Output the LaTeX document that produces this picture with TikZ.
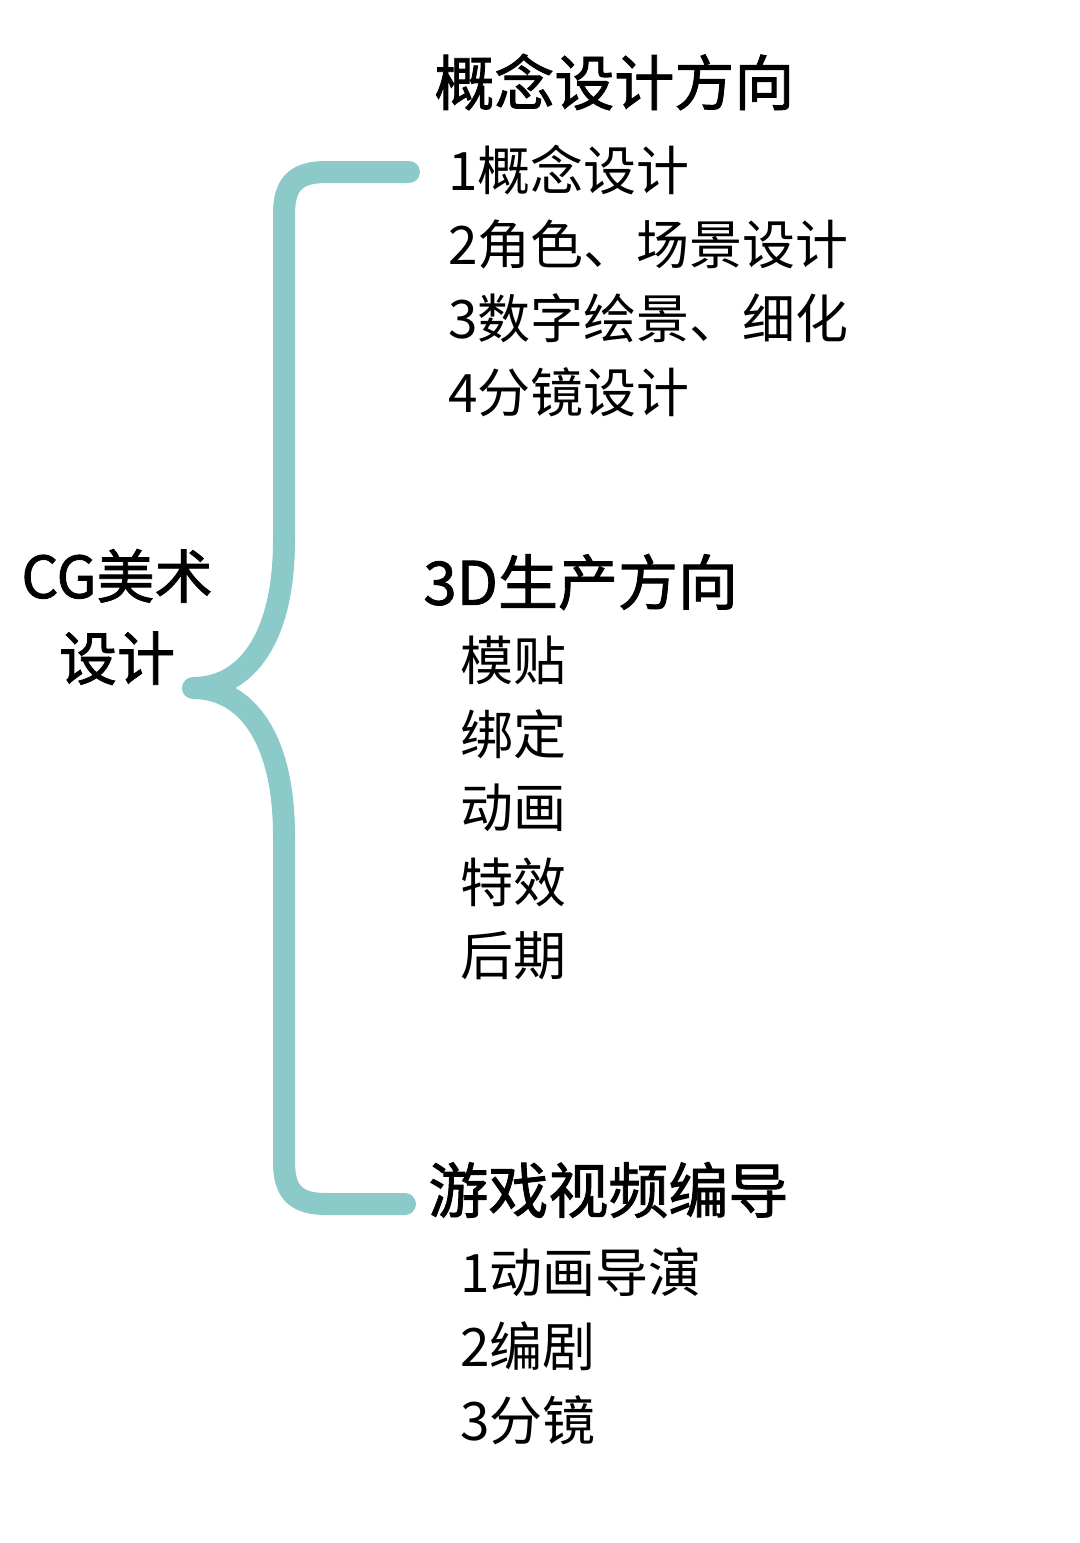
\documentclass[tikz,border=0pt]{standalone}
\usepackage{fontspec}
\newfontfamily\cjk{Noto Sans CJK SC}
\newfontfamily\cjkhead[FakeBold=1.4]{Noto Sans CJK SC}
\definecolor{bracecol}{HTML}{8CCACA}
\usepackage{tikz}
\usetikzlibrary{positioning}

\begin{document}
\begin{tikzpicture}[x=0.5pt,y=-0.5pt,
  root/.style={font=\cjkhead\fontsize{29}{41}\selectfont,align=center,inner sep=0pt},
  head/.style={font=\cjkhead\fontsize{30}{36}\selectfont,anchor=west,inner sep=0pt},
  item/.style={font=\cjk\fontsize{26.5}{32}\selectfont,anchor=west,inner sep=0pt},
  brace/.style={draw=bracecol,line width=11pt,line cap=round,line join=round}]
\useasboundingbox (0,0) rectangle (1080,1543);
% root
\node[root] (cg) at (117,617) {CG美术\\设计};
% branch 1
\node[head] (h1) at (434,82) {概念设计方向};
\node[item] (h1a) at (448,170) {1概念设计};
\node[item] (h1b) at (448,244) {2角色、场景设计};
\node[item] (h1c) at (448,318) {3数字绘景、细化};
\node[item] (h1d) at (448,392) {4分镜设计};
% branch 2
\node[head] (h2) at (423,582) {3D生产方向};
\node[item] (h2a) at (460,660) {模贴};
\node[item] (h2b) at (460,734) {绑定};
\node[item] (h2c) at (460,808) {动画};
\node[item] (h2d) at (460,882) {特效};
\node[item] (h2e) at (460,956) {后期};
% branch 3
\node[head] (h3) at (428,1190) {游戏视频编导};
\node[item] (h3a) at (460,1272) {1动画导演};
\node[item] (h3b) at (460,1346) {2编剧};
\node[item] (h3c) at (460,1420) {3分镜};
% brace
\coordinate (tip) at (193,688);
\coordinate (top) at (409,172);
\coordinate (bot) at (405,1204);
\draw[brace] (top) -- (326,172) .. controls (296,172) and (284,184) .. (284,214)
  -- (284,540) .. controls (284,640) and (245,688) .. (tip)
  .. controls (245,688) and (284,736) .. (284,836)
  -- (284,1162) .. controls (284,1192) and (296,1204) .. (326,1204) -- (bot);
\end{tikzpicture}
\end{document}
